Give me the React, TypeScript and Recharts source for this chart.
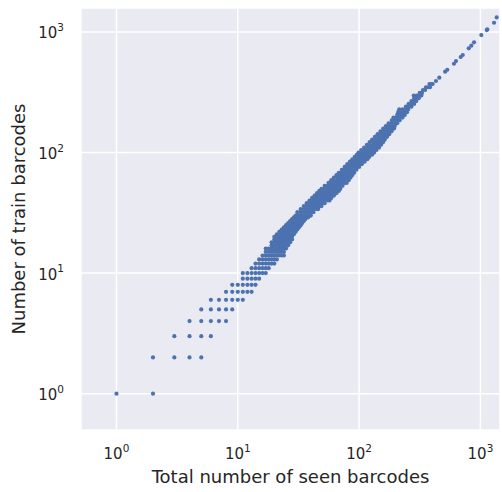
import { ScatterChart, Scatter, XAxis, YAxis, CartesianGrid } from "recharts";

// log-log scatter: train barcodes vs all seen barcodes

const X_TICKS = [1, 10, 100, 1000];
const Y_TICKS = [1, 10, 100, 1000];

// integer rows at the low end, [trainCount, seenCounts[]]
const LOW_ROWS: [number, number[]][] = [
  [1, [1, 2]],
  [2, [2, 3, 4, 5]],
  [3, [3, 4, 5, 6]],
  [4, [4, 5, 6, 7, 8]],
  [5, [5, 6, 7, 8, 9]],
  [6, [6, 7, 8, 9, 10, 11]],
  [7, [8, 9, 10, 11, 12, 13]],
  [8, [9, 10, 11, 12, 13, 14]],
  [9, [11, 12, 13, 14, 15]],
  [10, [11, 12, 13, 14, 15, 16, 17]],
  [11, [13, 14, 15, 16, 17, 18]],
  [12, [14, 15, 16, 17, 18, 19, 20]],
  [13, [15, 16, 17, 18, 19, 20, 21]],
  [14, [16, 17, 18, 19, 20, 21, 22, 23, 24]],
  [15, [17, 18, 19, 20, 21, 22, 23, 24]],
  [16, [17, 18, 19, 20, 21, 22, 23, 24, 25]],
  [17, [19, 20, 21, 22, 23, 24, 25, 26]],
  [18, [19, 20, 21, 22, 23, 24, 25, 26, 27]],
  [19, [20, 21, 22, 23, 24, 25, 26, 27, 28]],
  [20, [20, 21, 22, 23, 24, 25, 26, 27, 28]],
  [21, [21, 22, 23, 24, 25, 26, 27, 28, 29]],
  [22, [22, 23, 24, 25, 26, 27, 28, 29, 30]],
  [23, [23, 24, 25, 26, 27, 28, 29, 30, 31]],
  [24, [24, 25, 26, 27, 28, 29, 30, 31, 32]],
  [25, [25, 26, 27, 28, 29, 30, 31, 32, 33]],
  [26, [26, 27, 28, 29, 30, 31, 32, 33, 34]],
  [27, [27, 28, 29, 30, 31, 32, 33, 34, 35]],
  [28, [28, 29, 30, 31, 32, 33, 34, 35, 36]],
  [29, [29, 30, 31, 32, 33, 34, 35, 36, 38]],
  [30, [30, 31, 32, 33, 34, 36, 38, 40]],
];

// the dense band in the middle
const MID_ROWS: [number, number[]][] = [
  [32, [31, 33, 35, 37, 39, 41, 42]],
  [34, [33, 35, 37, 39, 41, 43, 45, 46]],
  [36, [35, 37, 39, 41, 43, 45, 47, 49]],
  [38, [37, 39, 41, 43, 45, 47, 49, 52]],
  [40, [39, 41, 43, 45, 47, 49, 52, 55, 57]],
  [42, [41, 43, 45, 47, 50, 53, 56, 59]],
  [44, [43, 45, 47, 50, 53, 56, 59, 62]],
  [46, [45, 47, 50, 53, 56, 59, 62, 65]],
  [48, [47, 50, 53, 56, 59, 62, 65, 68]],
  [50, [49, 52, 55, 58, 61, 64, 67, 70]],
  [53, [52, 55, 58, 61, 64, 67, 70, 73]],
  [56, [56, 59, 62, 65, 68, 72, 76, 79]],
  [59, [59, 62, 66, 70, 74, 78, 82]],
  [62, [62, 66, 70, 74, 78, 82, 85]],
  [65, [65, 69, 73, 77, 81, 85, 88]],
  [68, [68, 72, 76, 80, 84, 88, 91]],
  [72, [72, 76, 80, 85, 90, 95]],
  [76, [76, 81, 86, 91, 96, 100]],
  [80, [80, 85, 90, 95, 100, 105]],
  [84, [84, 89, 95, 101, 107, 111]],
  [88, [88, 94, 100, 106, 112, 117]],
  [92, [92, 98, 104, 110, 116, 121]],
  [96, [96, 102, 109, 116, 123, 128]],
  [100, [99, 106, 113, 120, 127, 133]],
  [105, [104, 111, 118, 125, 132, 139]],
  [110, [110, 117, 124, 132, 140, 146]],
  [116, [116, 123, 131, 139, 147, 152]],
  [122, [122, 130, 138, 146, 154, 158]],
  [128, [128, 136, 145, 154, 163]],
  [135, [135, 144, 153, 162, 170]],
  [142, [142, 151, 160, 169, 177]],
  [150, [150, 159, 168, 177, 185]],
  [158, [158, 168, 178, 188, 194]],
  [166, [166, 176, 186, 197]],
  [175, [175, 186, 197, 206]],
  [185, [186, 197, 208, 216]],
  [195, [192, 204, 216, 228]],
  [205, [206, 218, 230, 238]],
  [216, [210, 224, 238, 248]],
  [228, [214, 228, 242, 254]],
  [240, [243, 256, 270]],
  [253, [256, 270, 284]],
  [267, [270, 285, 296]],
  [282, [284, 298, 310]],
  [297, [282, 298, 314, 326]],
  [312, [316, 330]],
  [330, [336, 350]],
  [348, [356, 372, 384]],
  [370, [380, 396, 404]],
];

// sparse points at the top end, [seen, train]
const TOP_POINTS: [number, number][] = [
  [430, 392], [458, 418], [512, 468], [533, 486], [605, 545],
  [629, 574], [688, 620], [715, 644], [801, 731], [841, 769],
  [886, 820], [1017, 942], [1127, 1037], [1140, 1050],
  [1295, 1192], [1362, 1321],
];

const points = [
  ...[...LOW_ROWS, ...MID_ROWS].flatMap(([y, xs]) => xs.map((x) => ({ seen: x, train: y }))),
  ...TOP_POINTS.map(([x, y]) => ({ seen: x, train: y })),
];

const TEXT = "#262626";
const FONT = "DejaVu Sans";

function XTick({ x, y, payload }: any) {
  const exp = Math.round(Math.log10(payload.value));
  return (
    <text x={x} y={y + 29} textAnchor="middle" fill={TEXT} fontSize={15} fontFamily={FONT}>
      <tspan>10</tspan>
      <tspan dy={-7.5} fontSize={10.5}>{exp}</tspan>
    </text>
  );
}

function YTick({ x, y, payload }: any) {
  const exp = Math.round(Math.log10(payload.value));
  return (
    <text x={x - 17} y={y + 6.5} textAnchor="end" fill={TEXT} fontSize={15} fontFamily={FONT}>
      <tspan>10</tspan>
      <tspan dy={-7.5} fontSize={10.5}>{exp}</tspan>
    </text>
  );
}

const dot = ({ cx, cy }: any) => <circle cx={cx} cy={cy} r={2.1} fill="#4C72B0" />;

export default function App() {
  return (
    <div style={{ position: "absolute", left: 0, top: 0, fontFamily: FONT }}>
      <ScatterChart width={502} height={492} margin={{ top: 8, right: 2, bottom: 0, left: 0 }}>
        <CartesianGrid fill="#EAEAF2" stroke="#ffffff" strokeWidth={1.5} />
        <XAxis
          type="number"
          dataKey="seen"
          scale="log"
          domain={[0.51, 1450]}
          allowDataOverflow
          ticks={X_TICKS}
          tick={<XTick />}
          tickLine={false}
          axisLine={false}
          tickSize={0}
          tickMargin={0}
          height={62}
          label={{
            value: "Total number of seen barcodes",
            position: "insideBottom",
            offset: 9,
            fill: TEXT,
            fontSize: 18,
            fontFamily: FONT,
          }}
        />
        <YAxis
          type="number"
          dataKey="train"
          scale="log"
          domain={[0.5, 1580]}
          allowDataOverflow
          ticks={Y_TICKS}
          tick={<YTick />}
          tickLine={false}
          axisLine={false}
          tickSize={0}
          tickMargin={0}
          width={81}
          label={{
            value: "Number of train barcodes",
            angle: -90,
            position: "insideLeft",
            offset: 19,
            fill: TEXT,
            fontSize: 18,
            fontFamily: FONT,
            style: { textAnchor: "middle" },
          }}
        />
        <Scatter data={points} shape={dot} isAnimationActive={false} />
      </ScatterChart>
    </div>
  );
}
